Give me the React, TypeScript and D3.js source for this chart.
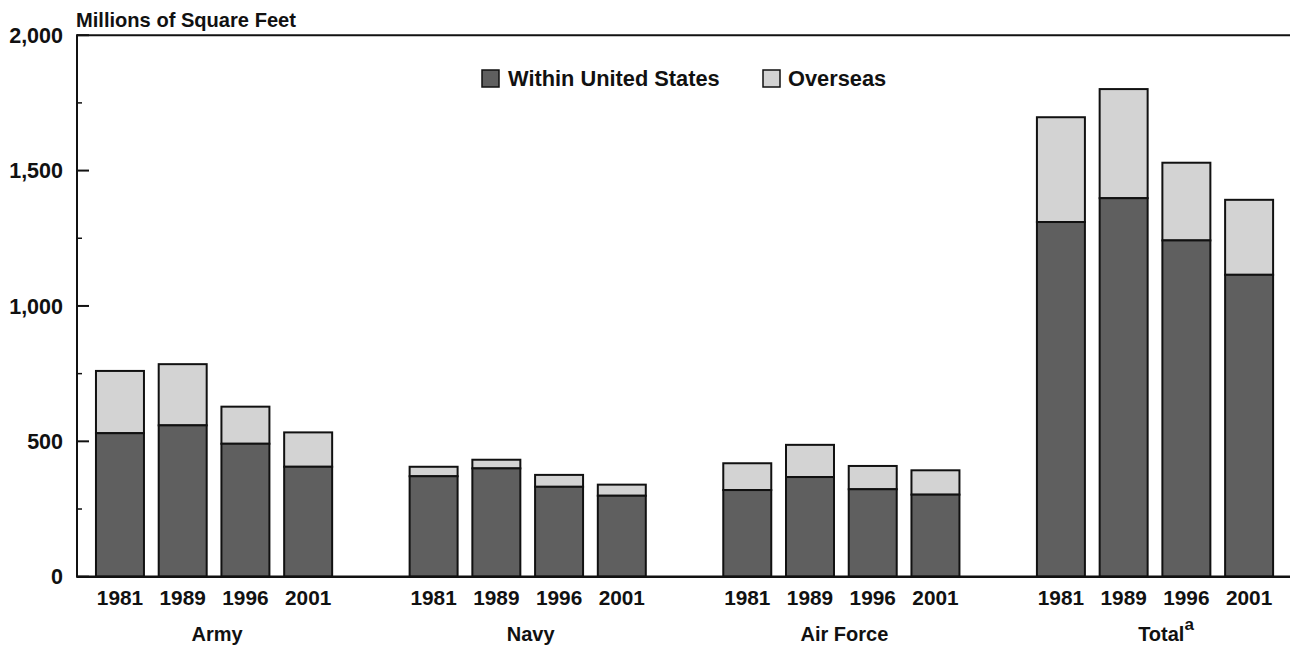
import React from "react";
import * as d3 from "d3";

const groups = ["Army", "Navy", "Air Force", "Total"];
const years = ["1981", "1989", "1996", "2001"];
// Millions of square feet, by group then year
const withinUS = [
  [530, 559, 491, 406],
  [371, 400, 332, 299],
  [320, 368, 323, 303],
  [1310, 1398, 1242, 1115],
];
const overseas = [
  [230, 226, 137, 127],
  [35, 32, 44, 41],
  [99, 119, 86, 90],
  [387, 403, 287, 277],
];
const yMajorTicks = [0, 500, 1000, 1500, 2000];
const yMinorTicks = [250, 750, 1250, 1750];

const W = 1290;
const H = 648;
const FONT = "'Liberation Sans', Arial, Helvetica, sans-serif";
const DARK = "#5f5f5f";
const LIGHT = "#d3d3d3";

export default function App() {
  const axisX = 77;
  const y = d3.scaleLinear().domain([0, 2000]).range([576.7, 35.2]);

  // slots: 4 bars per group + 1 empty spacer between groups
  const slotKeys: string[] = [];
  groups.forEach((g, gi) => {
    years.forEach((yr) => slotKeys.push(`${g}|${yr}`));
    if (gi < groups.length - 1) slotKeys.push(`gap${gi}`);
  });
  const x = d3
    .scaleBand<string>()
    .domain(slotKeys)
    .range([88.6, 88.6 + 19 * 62.73])
    .paddingInner(0.235)
    .paddingOuter(0.1175);
  const bw = x.bandwidth();

  const bars: any[] = [];
  groups.forEach((g, gi) => {
    years.forEach((yr, yi) => {
      const x0 = x(`${g}|${yr}`)!;
      const w = withinUS[gi][yi];
      const o = overseas[gi][yi];
      bars.push({ g, yr, x0, w, o });
    });
  });

  return (
    <div style={{ position: "absolute", left: 0, top: 0 }}>
      <svg width={W} height={H} style={{ display: "block", background: "#fff" }}>
        {/* title */}
        <text x={76} y={26.5} fontFamily={FONT} fontWeight="bold" fontSize={20.1} fill="#111">
          Millions of Square Feet
        </text>

        {/* bars */}
        {bars.map((b) => (
          <g key={`${b.g}-${b.yr}`}>
            <rect
              x={b.x0}
              y={y(b.w + b.o)}
              width={bw}
              height={y(b.w) - y(b.w + b.o)}
              fill={LIGHT}
              stroke="#111"
              strokeWidth={2}
            />
            <rect
              x={b.x0}
              y={y(b.w)}
              width={bw}
              height={y(0) - y(b.w)}
              fill={DARK}
              stroke="#111"
              strokeWidth={2}
            />
          </g>
        ))}

        {/* axes */}
        <line x1={axisX} x2={W} y1={y(2000)} y2={y(2000)} stroke="#111" strokeWidth={2} />
        <line x1={axisX} x2={W} y1={y(0)} y2={y(0)} stroke="#111" strokeWidth={2.5} />
        <line x1={axisX} x2={axisX} y1={y(2000) - 1} y2={y(0) + 1} stroke="#111" strokeWidth={2} />
        {yMajorTicks.map((t) => (
          <g key={`M${t}`}>
            <line x1={axisX} x2={axisX + 12} y1={y(t)} y2={y(t)} stroke="#111" strokeWidth={2} />
            <text
              x={63}
              y={y(t)}
              dy="0.36em"
              textAnchor="end"
              fontFamily={FONT}
              fontWeight="bold"
              fontSize={21.5}
              fill="#111"
            >
              {d3.format(",")(t)}
            </text>
          </g>
        ))}
        {yMinorTicks.map((t) => (
          <line key={`m${t}`} x1={axisX} x2={axisX + 5} y1={y(t)} y2={y(t)} stroke="#111" strokeWidth={1.5} />
        ))}

        {/* year labels */}
        {bars.map((b) => (
          <text
            key={`l-${b.g}-${b.yr}`}
            x={b.x0 + bw / 2}
            y={605}
            textAnchor="middle"
            fontFamily={FONT}
            fontWeight="bold"
            fontSize={20.8}
            fill="#111"
          >
            {b.yr}
          </text>
        ))}

        {/* group labels */}
        {groups.map((g) => {
          const a = x(`${g}|${years[0]}`)!;
          const z = x(`${g}|${years[years.length - 1]}`)! + bw;
          const cx = (a + z) / 2;
          return (
            <text
              key={`g-${g}`}
              x={g === "Total" ? cx + 11 : cx + 3}
              y={641}
              textAnchor="middle"
              fontFamily={FONT}
              fontWeight="bold"
              fontSize={20}
              fill="#111"
            >
              {g}
              {g === "Total" ? (
                <tspan dy={-11} fontSize={17}>
                  a
                </tspan>
              ) : null}
            </text>
          );
        })}

        {/* legend */}
        <rect x={482} y={70} width={17} height={17} fill={DARK} stroke="#111" strokeWidth={1.5} />
        <text x={508} y={86} fontFamily={FONT} fontWeight="bold" fontSize={21.8} fill="#111">
          Within United States
        </text>
        <rect x={763} y={70} width={17} height={17} fill={LIGHT} stroke="#111" strokeWidth={1.5} />
        <text x={788} y={86} fontFamily={FONT} fontWeight="bold" fontSize={21.8} fill="#111">
          Overseas
        </text>
      </svg>
    </div>
  );
}
